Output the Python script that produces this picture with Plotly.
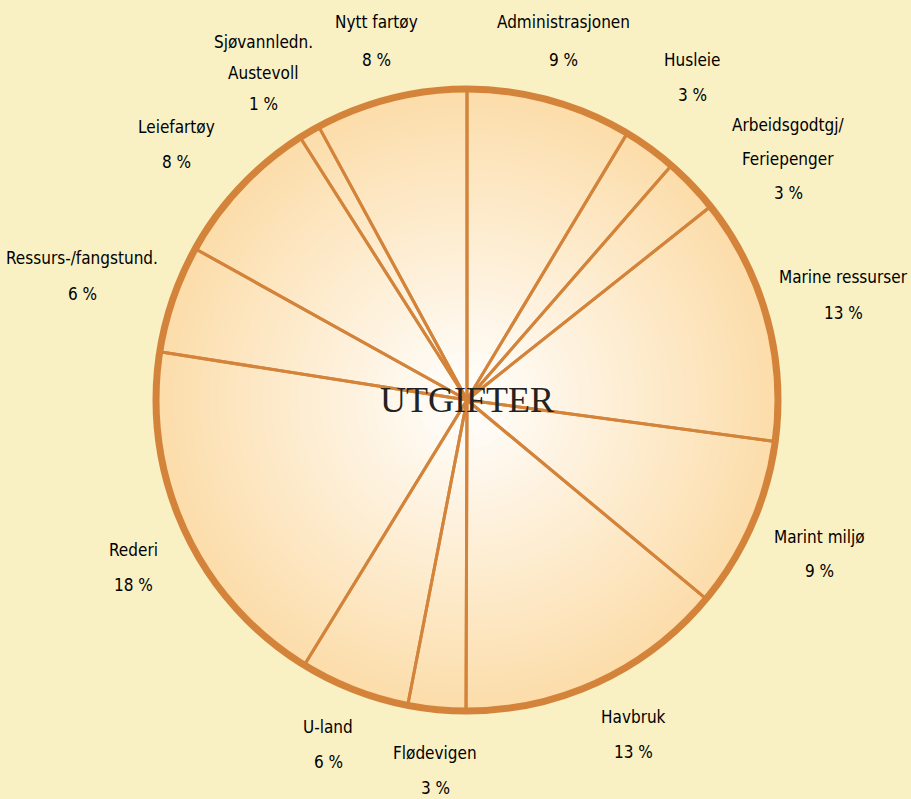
import plotly.graph_objects as go

# ---- data ----
categories = ["Administrasjonen", "Husleie", "Arbeidsgodtgj/\nFeriepenger", "Marine ressurser",
              "Marint miljø", "Havbruk", "Flødevigen", "U-land", "Rederi",
              "Ressurs-/fangstund.", "Leiefartøy", "Sjøvannledn.\nAustevoll", "Nytt fartøy"]
values = [8.6, 2.8, 2.9, 12.8, 8.9, 14.0, 3.0, 5.7, 18.7, 5.6, 7.9, 1.1, 7.9]
pct_labels = ["9 %", "3 %", "3 %", "13 %", "9 %", "13 %", "3 %", "6 %", "18 %", "6 %", "8 %", "1 %", "8 %"]
center_title = "UTGIFTER"

# ---- layout constants ----
W, H = 911, 799
CX, CY, R = 467, 400, 311
BG = "#f9f0c4"
ORANGE = "#d4843a"
EDGE = (252, 221, 170)

# label anchor positions in pixels (x centre, y of first line), line gap
label_pos = [(563, 22), (692, 60), (788, 125), (843, 277), (819, 537), (633, 717),
             (435, 753), (328, 727), (133, 550), (82, 258), (176, 127), (263, 42), (376, 22)]
line_gap = [38, 35, 34, 36, 34, 35, 35, 35, 35, 36, 35, 31, 38]

def px(x):
    return x / W

def py(y):
    return 1 - y / H

fig = go.Figure()
fig.add_trace(go.Pie(
    labels=categories, values=values, sort=False, direction="clockwise", rotation=0,
    textinfo="none", hoverinfo="label+percent", showlegend=False,
    marker=dict(colors=["rgba(0,0,0,0)"] * len(values), line=dict(color=ORANGE, width=3)),
    domain=dict(x=[px(CX - R), px(CX + R)], y=[py(CY + R), py(CY - R)]),
))

shapes = []
N = 70
for i in range(N):
    f = 1 - i / N
    r = R * f
    c = tuple(round(255 - (255 - e) * f) for e in EDGE)
    shapes.append(dict(type="circle", xref="paper", yref="paper", layer="below",
                       x0=px(CX - r), x1=px(CX + r), y0=py(CY + r), y1=py(CY - r),
                       fillcolor="rgb(%d,%d,%d)" % c, line=dict(width=0)))
shapes.append(dict(type="circle", xref="paper", yref="paper", layer="above",
                   x0=px(CX - R), x1=px(CX + R), y0=py(CY + R), y1=py(CY - R),
                   line=dict(color=ORANGE, width=7)))

annotations = []
font_lab = dict(family="DejaVu Sans Condensed, Liberation Sans Narrow, sans-serif", size=17,
                color="#000000")
for name, pct, (lx, ly), gap in zip(categories, pct_labels, label_pos, line_gap):
    lines = name.split("\n") + [pct]
    for k, t in enumerate(lines):
        annotations.append(dict(text=t, x=px(lx), y=py(ly + k * gap), xref="paper", yref="paper",
                                xanchor="center", yanchor="middle", showarrow=False, font=font_lab))
annotations.append(dict(text=center_title, x=px(CX), y=py(CY), xref="paper", yref="paper",
                        xanchor="center", yanchor="middle", showarrow=False,
                        font=dict(family="Liberation Serif, Times New Roman, serif", size=36, color="#222222")))

fig.update_layout(width=W, height=H, margin=dict(l=0, r=0, t=0, b=0),
                  paper_bgcolor=BG, plot_bgcolor=BG, shapes=shapes, annotations=annotations)
fig.write_html("out.html", post_script="document.body.style.margin='0';",
               config={"displayModeBar": False})
